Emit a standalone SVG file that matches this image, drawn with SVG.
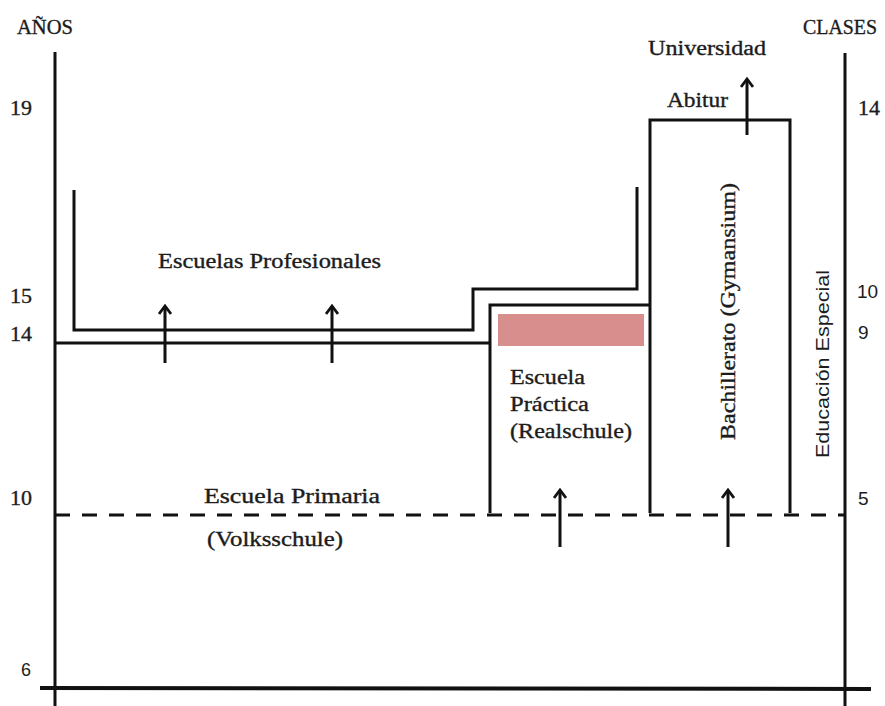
<svg xmlns="http://www.w3.org/2000/svg" width="885" height="706" viewBox="0 0 885 706">
  <style>
    .ln { fill: none; stroke: #111; stroke-width: 3; stroke-linecap: butt; stroke-linejoin: miter; }
    .dash { fill: none; stroke: #111; stroke-width: 3; stroke-dasharray: 15 12; }
    .arr { fill: none; stroke: #111; stroke-width: 3; marker-end: url(#head); }
    .t { font-family: "Liberation Serif", "DejaVu Serif", serif; font-size: 20px; fill: #1c1c1c; stroke: #1c1c1c; stroke-width: 0.35; }
    .n { font-family: "Liberation Serif", "DejaVu Serif", serif; font-size: 22px; fill: #1c1c1c; stroke: #1c1c1c; stroke-width: 0.35; }
    .s { font-family: "Liberation Sans", "DejaVu Sans", sans-serif; font-size: 19px; fill: #1c1c1c; }
  </style>
  <defs>
    <!-- open chevron head; drawn pointing along +x so orient="auto" turns it with the line -->
    <marker id="head" viewBox="0 0 12 14" refX="10" refY="7" markerWidth="12" markerHeight="14" markerUnits="userSpaceOnUse" orient="auto">
      <path d="M2,1 L10,7 L2,13" fill="none" stroke="#111" stroke-width="2.8"/>
    </marker>
  </defs>
  <rect width="885" height="706" fill="#fff"/>

  <!-- axes -->
  <g id="axes">
    <line class="ln" x1="55" y1="52" x2="55" y2="706"/>
    <line class="ln" x1="845" y1="53" x2="845" y2="706"/>
    <line class="ln" x1="40" y1="688" x2="871" y2="689" style="stroke-width:4"/>
    <text class="t" x="17" y="34" textLength="56" lengthAdjust="spacingAndGlyphs">AÑOS</text>
    <text class="t" x="803" y="34" textLength="74" lengthAdjust="spacingAndGlyphs">CLASES</text>
    <text class="n" x="10" y="115">19</text>
    <text class="n" x="10" y="303">15</text>
    <text class="n" x="10" y="341">14</text>
    <text class="n" x="10" y="505">10</text>
    <text class="s" x="21" y="676" textLength="10" lengthAdjust="spacingAndGlyphs">6</text>
    <text class="n" x="858" y="115">14</text>
    <text class="s" x="857" y="298">10</text>
    <text class="s" x="858" y="339">9</text>
    <text class="s" x="858" y="505">5</text>
  </g>

  <!-- Escuelas Profesionales -->
  <g id="profesionales">
    <path class="ln" d="M74,190 V330 H473 V289 H637 V187"/>
    <text class="t" x="158" y="268" textLength="223" lengthAdjust="spacingAndGlyphs">Escuelas Profesionales</text>
  </g>

  <!-- Escuela Práctica (Realschule) -->
  <g id="realschule">
    <path class="ln" d="M490,513 V305 H650"/>
    <rect x="498" y="314" width="146" height="32" fill="#d98e8e"/>
    <text class="t" x="510" y="384" textLength="75" lengthAdjust="spacingAndGlyphs">Escuela</text>
    <text class="t" x="510" y="411" textLength="79" lengthAdjust="spacingAndGlyphs">Práctica</text>
    <text class="t" x="510" y="438" textLength="122" lengthAdjust="spacingAndGlyphs">(Realschule)</text>
  </g>

  <!-- Bachillerato (Gymnasium) -->
  <g id="gymnasium">
    <path class="ln" d="M650,513 V120 H790 V513"/>
    <text class="t" transform="translate(735,440) rotate(-90)" x="0" y="0" textLength="257" lengthAdjust="spacingAndGlyphs">Bachillerato (Gymansium)</text>
    <text class="t" x="667" y="107" textLength="61" lengthAdjust="spacingAndGlyphs">Abitur</text>
    <text class="t" x="648" y="55" textLength="118" lengthAdjust="spacingAndGlyphs">Universidad</text>
  </g>

  <!-- Educación Especial -->
  <g id="especial">
    <text class="s" transform="translate(829,458) rotate(-90)" x="0" y="0" textLength="188" lengthAdjust="spacingAndGlyphs">Educación Especial</text>
  </g>

  <!-- Escuela Primaria (Volksschule) -->
  <g id="primaria">
    <line class="ln" x1="55" y1="343" x2="490" y2="343"/>
    <line class="dash" x1="55" y1="515" x2="845" y2="515"/>
    <text class="t" x="204" y="503" textLength="176" lengthAdjust="spacingAndGlyphs">Escuela Primaria</text>
    <text class="t" x="207" y="546" textLength="136" lengthAdjust="spacingAndGlyphs">(Volksschule)</text>
  </g>

  <!-- transition arrows -->
  <g id="connectors">
    <line class="arr" x1="165" y1="363" x2="165" y2="306"/>
    <line class="arr" x1="332" y1="363" x2="332" y2="306"/>
    <line class="arr" x1="560" y1="547" x2="560" y2="490"/>
    <line class="arr" x1="728" y1="547" x2="728" y2="490"/>
    <line class="arr" x1="747" y1="135" x2="747" y2="79"/>
  </g>
</svg>
